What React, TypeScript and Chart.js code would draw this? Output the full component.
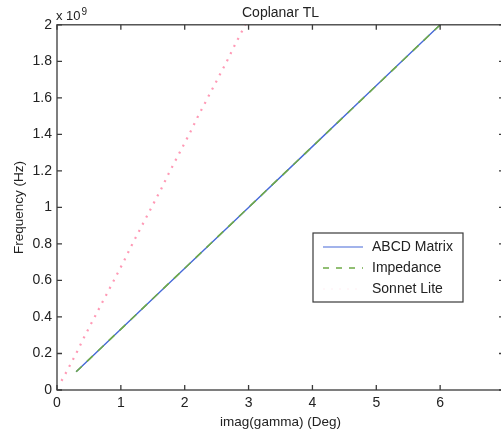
import React, { useEffect, useRef } from "react";
import { Chart, registerables } from "chart.js";

Chart.register(...registerables);

// ---- data ----
const abcdFreq = [0.1e9, 0.4e9, 0.7e9, 1.0e9, 1.3e9, 1.6e9, 2.0e9];
const abcdPhase = [0.3, 1.2, 2.1, 3.0, 3.9, 4.8, 6.0];

const impedanceFreq = [0.1e9, 0.4e9, 0.7e9, 1.0e9, 1.3e9, 1.6e9, 2.0e9];
const impedancePhase = [0.3, 1.2, 2.1, 3.0, 3.9, 4.8, 6.0];

const sonnetFreq = [
  0.05e9, 0.1e9, 0.2e9, 0.3e9, 0.4e9, 0.5e9, 0.6e9, 0.7e9, 0.8e9, 0.9e9, 1.0e9,
  1.1e9, 1.2e9, 1.3e9, 1.4e9, 1.5e9, 1.6e9, 1.7e9, 1.8e9, 1.9e9, 2.0e9,
];
const sonnetPhase = [
  0.07, 0.15, 0.3, 0.44, 0.59, 0.74, 0.89, 1.04, 1.18, 1.33, 1.48,
  1.63, 1.77, 1.92, 2.07, 2.21, 2.36, 2.51, 2.66, 2.8, 2.95,
];

const xTickValues = [0, 1, 2, 3, 4, 5, 6, 7];
const xTickLabels = ["0", "1", "2", "3", "4", "5", "6", ""];
const yTickValues = [0, 0.2e9, 0.4e9, 0.6e9, 0.8e9, 1.0e9, 1.2e9, 1.4e9, 1.6e9, 1.8e9, 2.0e9];
const yTickLabels = ["0", "0.2", "0.4", "0.6", "0.8", "1", "1.2", "1.4", "1.6", "1.8", "2"];

const seriesNames = ["ABCD Matrix", "Impedance", "Sonnet Lite"];
const titleText = "Coplanar TL";
const xLabel = "imag(gamma) (Deg)";
const yLabel = "Frequency (Hz)";

const FONT = "'Liberation Sans', Arial, Helvetica, sans-serif";
const BLUE = "rgb(70,105,215)";
const GREEN = "rgb(110,170,70)";
const RED = "rgba(255,70,120,0.55)";
const FRAME = "#3a3a3a";

const toPoints = (xs: number[], ys: number[]) => xs.map((x, i) => ({ x: ys[i], y: x }));

const framePlugin = {
  id: "matlabFrame",
  afterDatasetsDraw(chart: any) {
    const { ctx, chartArea } = chart;
    const { left, right, top, bottom } = chartArea;
    const xs = chart.scales.x;
    const ys = chart.scales.y;
    ctx.save();
    // frame
    ctx.strokeStyle = FRAME;
    ctx.lineWidth = 1.3;
    ctx.strokeRect(left, top, right - left, bottom - top);
    // inward ticks
    const tl = 5;
    ctx.beginPath();
    xTickValues.forEach((v) => {
      const px = xs.getPixelForValue(v);
      ctx.moveTo(px, bottom);
      ctx.lineTo(px, bottom - tl);
      ctx.moveTo(px, top);
      ctx.lineTo(px, top + tl);
    });
    yTickValues.forEach((v) => {
      const py = ys.getPixelForValue(v);
      ctx.moveTo(left, py);
      ctx.lineTo(left + tl, py);
      ctx.moveTo(right, py);
      ctx.lineTo(right - tl, py);
    });
    ctx.stroke();

    // exponent label
    ctx.fillStyle = "#222";
    ctx.textBaseline = "middle";
    ctx.textAlign = "left";
    ctx.font = `13px ${FONT}`;
    const base = "x 10";
    ctx.fillText(base, left - 1, top - 8);
    const w = ctx.measureText(base).width;
    ctx.font = `10px ${FONT}`;
    ctx.fillText("9", left - 1 + w + 1, top - 13);

    // legend
    const lx = 313, ly = 233, lw = 150, lh = 69;
    ctx.fillStyle = "#fff";
    ctx.fillRect(lx, ly, lw, lh);
    ctx.strokeStyle = FRAME;
    ctx.lineWidth = 1.2;
    ctx.strokeRect(lx, ly, lw, lh);
    const rows = [247, 268, 289];
    const styles = [
      { color: BLUE, dash: [] as number[], width: 1.1 },
      { color: GREEN, dash: [6, 7], width: 1.4 },
      { color: "rgba(255,120,150,0.12)", dash: [2, 6], width: 1.2 },
    ];
    rows.forEach((ry, i) => {
      ctx.beginPath();
      ctx.strokeStyle = styles[i].color;
      ctx.lineWidth = styles[i].width;
      ctx.setLineDash(styles[i].dash);
      ctx.moveTo(323, ry);
      ctx.lineTo(363, ry);
      ctx.stroke();
      ctx.setLineDash([]);
      ctx.fillStyle = "#222";
      ctx.font = `14px ${FONT}`;
      ctx.textBaseline = "middle";
      ctx.textAlign = "left";
      ctx.fillText(seriesNames[i], 372, ry);
    });
    ctx.restore();
  },
};

export default function App() {
  const canvasRef = useRef<HTMLCanvasElement | null>(null);

  useEffect(() => {
    document.documentElement.style.overflow = "hidden";
    document.body.style.overflow = "hidden";
    const canvas = canvasRef.current;
    if (!canvas) return;
    const chart = new Chart(canvas, {
      type: "scatter",
      data: {
        datasets: [
          {
            label: seriesNames[1],
            data: toPoints(impedanceFreq, impedancePhase),
            showLine: true,
            borderColor: GREEN,
            backgroundColor: GREEN,
            borderWidth: 1.6,
            borderDash: [8, 7],
            pointRadius: 0,
            order: 1,
          },
          {
            label: seriesNames[0],
            data: toPoints(abcdFreq, abcdPhase),
            showLine: true,
            borderColor: BLUE,
            backgroundColor: BLUE,
            borderWidth: 1.4,
            pointRadius: 0,
            order: 2,
          },
          {
            label: seriesNames[2],
            data: toPoints(sonnetFreq, sonnetPhase),
            showLine: true,
            borderColor: RED,
            backgroundColor: RED,
            borderWidth: 2.2,
            borderDash: [2, 6],
            pointRadius: 0,
            order: 3,
          },
        ],
      },
      plugins: [framePlugin],
      options: {
        animation: false,
        responsive: false,
        devicePixelRatio: 1,
        layout: { padding: { left: 0, right: 16, top: 0, bottom: 0 } },
        plugins: {
          legend: { display: false },
          tooltip: { enabled: false },
          title: {
            display: true,
            text: titleText,
            fullSize: false,
            color: "#222",
            font: { family: FONT, size: 14, weight: "normal" },
            padding: { top: 5, bottom: 3 },
          },
        },
        scales: {
          x: {
            type: "linear",
            min: 0,
            max: 7,
            afterBuildTicks: (s: any) => {
              s.ticks = xTickValues.map((v) => ({ value: v }));
            },
            afterFit: (s: any) => {
              s.height = 44;
            },
            grid: { display: false, drawTicks: false },
            border: { display: false },
            ticks: {
              color: "#222",
              padding: 5,
              maxRotation: 0,
              autoSkip: false,
              font: { family: FONT, size: 14 },
              callback: (_v: any, i: number) => xTickLabels[i],
            },
            title: {
              display: true,
              text: xLabel,
              color: "#222",
              font: { family: FONT, size: 13.5 },
              padding: { top: 0, bottom: 4 },
            },
          },
          y: {
            type: "linear",
            min: 0,
            max: 2e9,
            afterBuildTicks: (s: any) => {
              s.ticks = yTickValues.map((v) => ({ value: v }));
            },
            afterFit: (s: any) => {
              s.width = 57;
            },
            grid: { display: false, drawTicks: false },
            border: { display: false },
            ticks: {
              color: "#222",
              padding: 5,
              autoSkip: false,
              font: { family: FONT, size: 14 },
              callback: (_v: any, i: number) => yTickLabels[i],
            },
            title: {
              display: true,
              text: yLabel,
              color: "#222",
              font: { family: FONT, size: 13.5 },
              padding: { top: 11, bottom: 0 },
            },
          },
        },
      },
    } as any);
    return () => chart.destroy();
  }, []);

  return (
    <div style={{ position: "fixed", left: 0, top: 0, width: 520, height: 434, background: "#fff" }}>
      <canvas ref={canvasRef} width={520} height={434} style={{ width: 520, height: 434, display: "block" }} />
    </div>
  );
}
